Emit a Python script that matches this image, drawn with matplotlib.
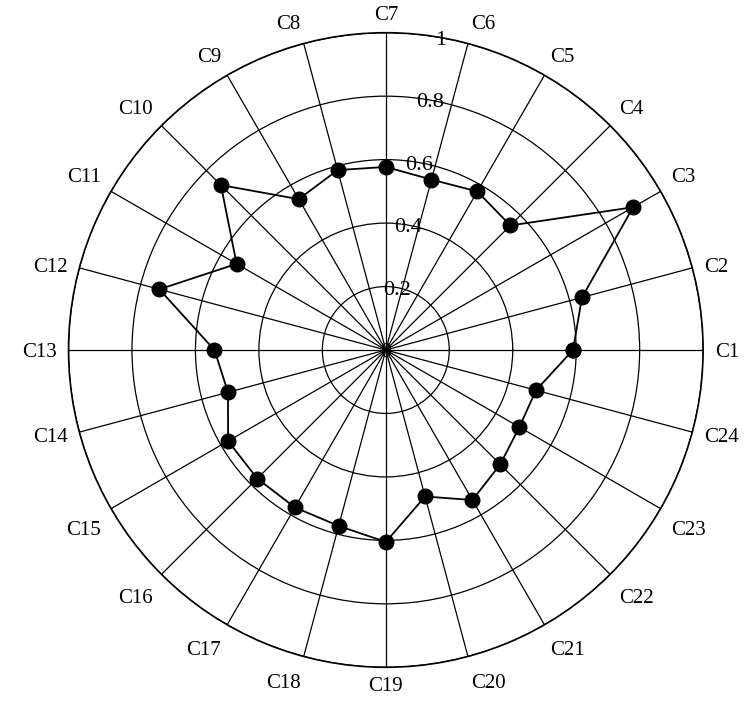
import numpy as np
import matplotlib
matplotlib.use("Agg")
import matplotlib.pyplot as plt

plt.rcParams["font.family"] = ["Liberation Serif", "DejaVu Serif"]

categories = [f"C{i}" for i in range(1, 25)]
values = [0.59, 0.64, 0.90, 0.555, 0.577, 0.556, 0.577, 0.587, 0.549, 0.735,
          0.543, 0.739, 0.54, 0.515, 0.574, 0.573, 0.573, 0.574, 0.605, 0.478,
          0.546, 0.51, 0.486, 0.49]
r_ticks = [0, 0.2, 0.4, 0.6, 0.8, 1.0]
r_tick_labels = ["0", "0.2", "0.4", "0.6", "0.8", "1"]
r_label_angle = 80  # degrees

DPI = 100
PT = 72 / DPI  # points per pixel

theta = np.deg2rad(np.arange(len(categories)) * 360 / len(categories))
theta_closed = np.append(theta, theta[0])
values_closed = values + values[:1]

fig = plt.figure(figsize=(7.48, 7.08), dpi=DPI)
ax = fig.add_axes([0.0913, 0.0575, 0.849, 0.8963], projection="polar")

ax.plot(theta_closed, values_closed, color="black", linewidth=1.3,
        marker="o", markersize=10.5, zorder=5)

ax.set_ylim(0, 1)
ax.set_yticks(r_ticks)
ax.set_yticklabels([])
# radial labels, glyphs centred on the point (baseline shifted down by half cap height)
for r, lab in zip(r_ticks, r_tick_labels):
    ang = 0 if r == 0 else np.deg2rad(r_label_angle)
    ax.annotate(lab, xy=(ang, r), xytext=(0, -7 * PT), textcoords="offset points",
                fontsize=16, ha="center", va="baseline", zorder=1)

# category labels: anchored just outside the spoke end, aligned by side
ax.set_xticks(theta)
ax.set_xticklabels([])
gap, cap_h = 12, 14
for t, lab in zip(theta, categories):
    c, s = np.cos(t), np.sin(t)
    side = abs(c) > 0.1
    ha = "left" if c > 0.1 else ("right" if c < -0.1 else "center")
    if s > 0.3:
        dy = 3 if side else 1
    elif s < -0.3:
        dy = -cap_h - (6 if side else -2)
    else:
        dy = -cap_h / 2
    ax.annotate(lab, xy=(t, 1.0), xytext=(gap * c * PT, (gap * s + dy) * PT),
                textcoords="offset points", fontsize=15, ha=ha, va="baseline",
                annotation_clip=False)

ax.grid(True, color="black", linewidth=0.9)
ax.spines["polar"].set_color("black")
ax.spines["polar"].set_linewidth(1.2)

fig.savefig("out.png", dpi=DPI)
